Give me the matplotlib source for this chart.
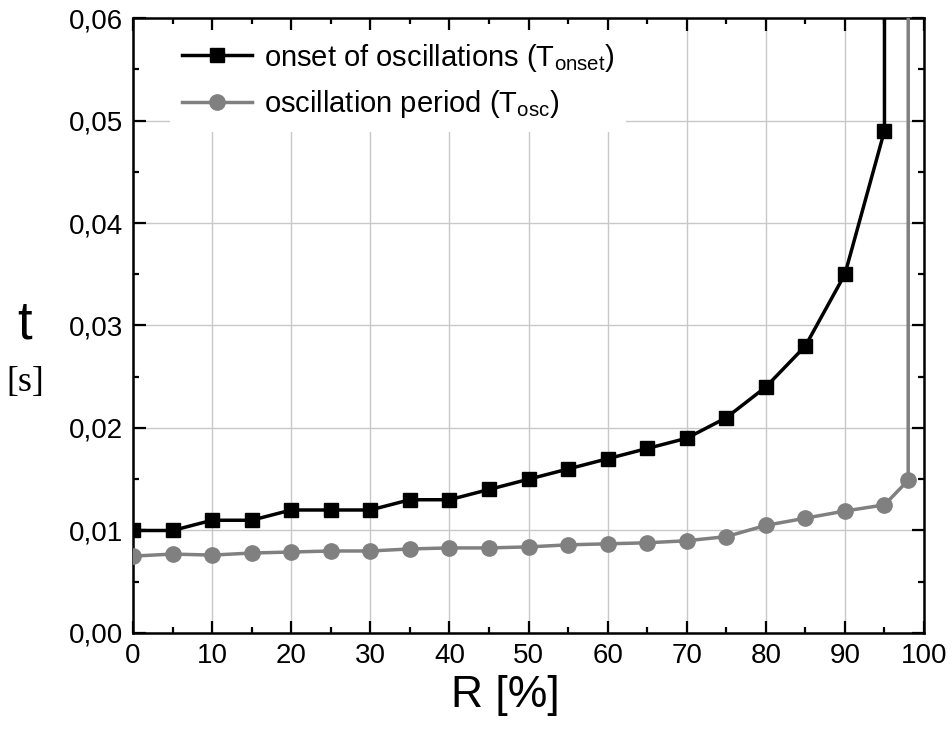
import numpy as np
import matplotlib
matplotlib.use("Agg")
import matplotlib.pyplot as plt
from matplotlib.ticker import MultipleLocator, FuncFormatter

plt.rcParams['font.family'] = ['Liberation Sans', 'DejaVu Sans']
plt.rcParams['mathtext.fontset'] = 'custom'
plt.rcParams['mathtext.rm'] = 'Liberation Sans'

# onset of oscillations, last point runs off the top of the plot
r_onset = [0, 5, 10, 15, 20, 25, 30, 35, 40, 45, 50, 55, 60, 65, 70, 75, 80, 85, 90, 95, 95.2]
t_onset = [0.010, 0.010, 0.011, 0.011, 0.012, 0.012, 0.012, 0.013, 0.013, 0.014, 0.015,
           0.016, 0.017, 0.018, 0.019, 0.021, 0.024, 0.028, 0.035, 0.049, 1.0]

# oscillation period, last point runs off the top of the plot
r_osc = [0, 5, 10, 15, 20, 25, 30, 35, 40, 45, 50, 55, 60, 65, 70, 75, 80, 85, 90, 95, 98, 98.1]
t_osc = [0.0075, 0.0077, 0.0076, 0.0078, 0.0079, 0.0080, 0.0080, 0.0082, 0.0083, 0.0083, 0.0084,
         0.0086, 0.0087, 0.0088, 0.0090, 0.0094, 0.0105, 0.0112, 0.0119, 0.0125, 0.0149, 1.0]

fig = plt.figure(figsize=(9.52, 7.29), dpi=100)
ax = fig.add_axes([0.1397, 0.1317, 0.9706 - 0.1397, 0.9753 - 0.1317])

n_on = len(r_onset) - 1
n_osc = len(r_osc) - 1
ax.plot(r_onset, t_onset, color='black', lw=2.5, marker='s', ms=10.5,
        markevery=list(range(n_on)), label=r'onset of oscillations (T$_{\mathregular{onset}}$)', zorder=4)
ax.plot(r_osc, t_osc, color='#808080', lw=2.5, marker='o', ms=11,
        markevery=list(range(n_osc)), label=r'oscillation period (T$_{\mathregular{osc}}$)', zorder=3)

ax.set_xlim(0, 100)
ax.set_ylim(0, 0.06)
ax.xaxis.set_major_locator(MultipleLocator(10))
ax.xaxis.set_minor_locator(MultipleLocator(5))
ax.yaxis.set_major_locator(MultipleLocator(0.01))
ax.yaxis.set_minor_locator(MultipleLocator(0.005))
ax.yaxis.set_major_formatter(FuncFormatter(lambda v, p: f'{v:.2f}'.replace('.', ',')))

ax.grid(True, which='major', color='#c8c8c8', lw=1)
ax.set_axisbelow(True)
ax.tick_params(which='both', direction='in', top=True, right=True, width=1.6, labelsize=20)
ax.tick_params(which='major', length=9)
ax.tick_params(which='minor', length=4.5)
ax.tick_params(axis='x', pad=7)
ax.tick_params(axis='y', pad=7)
for s in ax.spines.values():
    s.set_linewidth(1.8)

fig.text(505 / 952, 1 - 695 / 729, 'R [%]', fontsize=32, ha='center', va='center')
fig.text(0.026, 0.555, 't', fontsize=38, ha='center', va='center')
fig.text(0.027, 0.475, '[s]', fontsize=26, ha='center', va='center', family='Liberation Serif')

leg = ax.legend(loc='upper left', fontsize=21, frameon=True, fancybox=False,
                edgecolor='none', framealpha=1, handlelength=2.4, handletextpad=0.4,
                bbox_to_anchor=(0.04, 0.99), borderaxespad=0.2, labelspacing=0.5)
leg.get_frame().set_linewidth(0)

fig.savefig('out.png', dpi=100)
